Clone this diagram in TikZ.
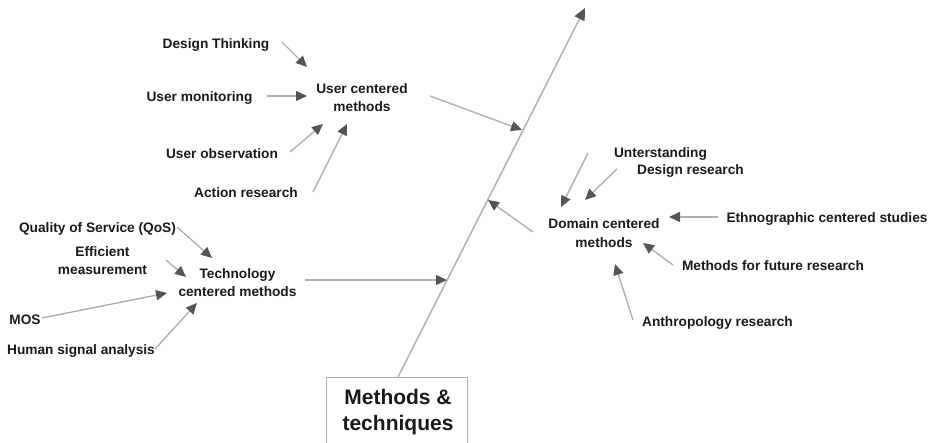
\documentclass[tikz,border=0pt]{standalone}
\usepackage{fontspec}
\setmainfont{Liberation Sans}
\usetikzlibrary{arrows.meta}
\definecolor{linegray}{HTML}{B0B0B0}
\definecolor{headgray}{HTML}{555555}
\definecolor{txt}{HTML}{1A1A1A}
\tikzset{
  lbl/.style={inner sep=0pt, align=center, text=txt, yshift=-1.5pt, font=\fontsize{13.7}{18.5}\selectfont\bfseries},
  conn/.style={draw=linegray, line width=1.4pt, -{Triangle[length=11pt,width=10pt,color=headgray]}},
  spine/.style={draw=linegray, line width=1.5pt, -{Triangle[length=12pt,width=11pt,color=headgray]}},
  mainbox/.style={draw=linegray, line width=1pt, fill=white, minimum width=141pt, minimum height=80pt, inner sep=0pt}
}
\begin{document}
\begin{tikzpicture}[x=1pt,y=-1pt]
\useasboundingbox (0,0) rectangle (935,443);
% main box
\node[mainbox, anchor=north west] (box) at (326,377) {};
\node[lbl, font=\fontsize{21}{26}\selectfont\bfseries] (mt) at (398,411) {Methods \&\\techniques};
% spine
\coordinate (sb) at (398,377);
\coordinate (st) at (585,8);
\draw[spine] (sb) -- (st);
\coordinate (su) at (522,130);
\coordinate (stc) at (447,280);
\coordinate (sd) at (488,200);

% user centered
\node[lbl] (uc) at (362,96) {User centered\\methods};
\node[lbl] (dt) at (216,43) {Design Thinking};
\node[lbl] (um) at (199.5,96) {User monitoring};
\node[lbl] (uo) at (222,152) {User observation};
\node[lbl] (ar) at (246,191) {Action research};
\coordinate (dt1) at (282,42); \coordinate (dt2) at (307,67);
\coordinate (um1) at (267,96); \coordinate (um2) at (307,96);
\coordinate (uo1) at (290,152); \coordinate (uo2) at (323,124);
\coordinate (ar1) at (313,192); \coordinate (ar2) at (347,124);
\coordinate (uc1) at (430,96);
\draw[conn] (dt1) -- (dt2);
\draw[conn] (um1) -- (um2);
\draw[conn] (uo1) -- (uo2);
\draw[conn] (ar1) -- (ar2);
\draw[conn] (uc1) -- (su);

% technology centered
\node[lbl] (tc) at (237.5,281) {Technology\\centered methods};
\node[lbl] (qos) at (97.5,227) {Quality of Service (QoS)};
\node[lbl] (em) at (102.5,259) {Efficient\\measurement};
\node[lbl] (mos) at (25,318) {MOS};
\node[lbl] (hsa) at (81,349) {Human signal analysis};
\coordinate (q1) at (177,227); \coordinate (q2) at (212,258);
\coordinate (e1) at (166,260); \coordinate (e2) at (186,277);
\coordinate (m1) at (42,318); \coordinate (m2) at (167,293);
\coordinate (h1) at (155,349); \coordinate (h2) at (197,303);
\coordinate (tc1) at (305,280);
\draw[conn] (q1) -- (q2);
\draw[conn] (e1) -- (e2);
\draw[conn] (m1) -- (m2);
\draw[conn] (h1) -- (h2);
\draw[conn] (tc1) -- (stc);

% domain centered
\node[lbl] (dc) at (604,231.5) {Domain centered\\methods};
\node[lbl] (un) at (660.5,152) {Unterstanding};
\node[lbl] (dr) at (690.5,169) {Design research};
\node[lbl] (eth) at (827,217) {Ethnographic centered studies};
\node[lbl] (mf) at (773,264) {Methods for future research};
\node[lbl] (an) at (717.5,321) {Anthropology research};
\coordinate (u1) at (588,153); \coordinate (u2) at (561,207);
\coordinate (d1) at (617,169); \coordinate (d2) at (585,200);
\coordinate (et1) at (718,217); \coordinate (et2) at (669,217);
\coordinate (mf1) at (673,265); \coordinate (mf2) at (643,243);
\coordinate (an1) at (633,320); \coordinate (an2) at (615,264);
\coordinate (dc1) at (533,232);
\draw[conn] (u1) -- (u2);
\draw[conn] (d1) -- (d2);
\draw[conn] (et1) -- (et2);
\draw[conn] (mf1) -- (mf2);
\draw[conn] (an1) -- (an2);
\draw[conn] (dc1) -- (sd);
\end{tikzpicture}
\end{document}
